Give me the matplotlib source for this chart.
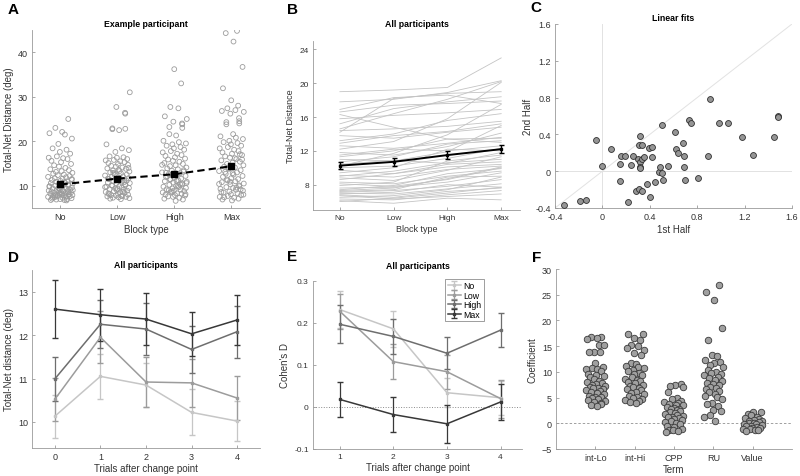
import matplotlib.pyplot as plt
import numpy as np

plt.rcParams['font.family'] = ['Liberation Sans', 'DejaVu Sans']

BLOCKS = ['No', 'Low', 'High', 'Max']

# A: example participant, one value per trial in each block
ex_no = [25.0, 23.0, 22.1, 21.8, 21.5, 20.6, 19.4, 18.4, 18.1, 17.6, 17.2, 16.6, 16.3, 16.2, 16.0,
         15.6, 15.3, 14.9, 14.6, 14.3, 14.0, 13.7, 13.5, 13.3, 13.1, 12.9, 12.7, 12.5, 12.4, 12.2,
         12.0, 11.9, 11.7, 11.6, 11.4, 11.3, 11.1, 11.0, 10.9, 10.8, 10.6, 10.5, 10.4, 10.3, 10.2,
         10.0, 9.9, 9.8, 9.7, 9.6, 9.5, 9.4, 9.3, 9.2, 9.1, 9.0, 8.9, 8.8, 8.8, 8.7, 8.6, 8.5, 8.4,
         8.4, 8.3, 8.2, 8.1, 8.0, 8.0, 7.9, 7.8, 7.8, 7.7, 7.6, 7.5, 7.5, 7.4, 7.3, 7.2, 7.1, 7.0,
         7.0, 6.9, 6.8, 6.8, 9.0, 9.4, 10.1, 8.6, 7.7, 8.2, 9.9, 10.7, 11.5, 8.9, 7.4, 6.7, 8.1]
ex_low = [31.0, 27.7, 26.4, 26.2, 22.9, 22.8, 22.7, 22.5, 19.3, 18.4, 18.0, 17.6, 16.6, 16.4, 16.3,
          16.0, 15.8, 15.7, 15.5, 15.3, 15.1, 14.9, 14.7, 14.5, 14.3, 14.1, 13.9, 13.8, 13.6, 13.4,
          13.2, 13.0, 12.8, 12.7, 12.5, 12.3, 12.1, 12.0, 11.8, 11.7, 11.5, 11.3, 11.2, 11.0, 10.9,
          10.7, 10.6, 10.5, 10.3, 10.2, 10.0, 9.9, 9.8, 9.6, 9.5, 9.4, 9.2, 9.1, 9.0, 8.9, 8.8, 8.6,
          8.5, 8.4, 8.3, 8.2, 8.0, 7.9, 7.8, 7.7, 7.6, 7.5, 7.4, 7.3, 7.2, 7.1, 7.0, 12.4, 11.1, 9.7,
          8.7, 10.1, 13.3, 14.0, 8.1, 9.3, 10.8, 12.9, 7.7, 11.6]
ex_high = [36.2, 33.0, 27.7, 27.4, 25.6, 25.0, 24.4, 24.0, 23.8, 23.2, 23.0, 21.6, 21.3, 20.1, 19.8,
           19.5, 19.3, 19.0, 18.7, 18.4, 18.1, 17.8, 17.5, 17.2, 16.9, 16.7, 16.4, 16.1, 15.9, 15.6,
           15.4, 15.1, 14.9, 14.6, 14.4, 14.1, 13.9, 13.7, 13.4, 13.2, 13.0, 12.8, 12.6, 12.4, 12.2,
           12.0, 11.8, 11.6, 11.4, 11.2, 11.0, 10.9, 10.7, 10.5, 10.3, 10.2, 10.0, 9.8, 9.7, 9.5,
           9.4, 9.2, 9.1, 8.9, 8.8, 8.6, 8.5, 8.3, 8.2, 8.0, 7.9, 7.8, 7.6, 7.5, 7.3, 7.1, 6.9, 6.6,
           11.5, 10.6, 12.1, 9.9, 8.7, 13.5, 14.7, 10.4, 9.0, 11.1, 8.1, 12.9]
ex_max = [44.8, 44.3, 42.4, 36.7, 31.9, 29.2, 28.0, 27.4, 27.0, 26.8, 26.6, 26.2, 25.2, 24.5, 24.3,
          24.0, 23.8, 21.6, 21.1, 20.8, 20.5, 20.1, 19.8, 19.6, 19.3, 19.0, 18.7, 18.4, 18.1, 17.8,
          17.5, 17.2, 16.9, 16.6, 16.3, 16.0, 15.7, 15.4, 15.2, 14.9, 14.6, 14.3, 14.1, 13.8, 13.5,
          13.3, 13.0, 12.7, 12.5, 12.2, 12.0, 11.7, 11.5, 11.2, 11.0, 10.8, 10.5, 10.3, 10.1, 9.9,
          9.7, 9.5, 9.3, 9.1, 8.9, 8.7, 8.5, 8.3, 8.1, 7.9, 7.7, 7.5, 7.3, 7.1, 6.9, 6.7, 15.9, 13.1,
          10.9, 9.6, 8.6, 17.1, 12.8, 11.4, 8.0, 7.4, 16.2, 14.0, 9.2, 10.4]
ex_means = [10.3, 11.6, 12.6, 14.4]

# horizontal scatter of the swarm points (fraction of the half width)
JITTER = [0.62, -0.41, 0.13, -0.88, 0.35, 0.91, -0.17, -0.63, 0.48, -0.05, 0.77, -0.29, -0.94,
          0.21, 0.56, -0.72, 0.04, 0.84, -0.51, -0.12, 0.39, -0.81, 0.67, 0.09, -0.36, 0.95,
          -0.58, 0.27, -0.21, 0.73, -0.99, 0.44, -0.46, 0.16, 0.88, -0.68, -0.02, 0.53, -0.33,
          0.31, -0.77, 0.98, -0.09, 0.6]

# B: every participant, mean per block (same row = same participant)
b_no = [19.0, 17.8, 16.9, 16.6, 16.3, 15.2, 14.6, 14.2, 14.4, 13.8, 13.2, 12.6, 12.2, 11.8, 11.5,
        11.0, 10.7, 10.4, 10.0, 9.7, 9.4, 9.1, 8.8, 8.6, 8.3, 8.1, 7.9, 7.6, 7.4, 7.3, 7.2, 7.1,
        7.0, 6.9, 6.8, 6.7, 6.5, 6.3, 6.1, 6.0, 15.8, 12.9, 10.2, 9.0, 11.3]
b_low = [19.2, 18.1, 18.3, 17.4, 14.8, 17.0, 16.4, 18.2, 14.6, 13.5, 14.0, 12.3, 13.1, 11.5, 12.2,
         10.8, 11.3, 10.9, 10.2, 9.3, 10.0, 8.9, 8.5, 9.3, 8.1, 7.8, 8.3, 7.7, 7.9, 7.6, 7.4, 7.3,
         6.9, 7.1, 6.5, 6.3, 6.7, 6.2, 5.8, 6.4, 16.2, 13.8, 11.7, 9.6, 12.0]
b_high = [19.5, 18.9, 18.6, 17.6, 13.4, 17.8, 18.1, 18.8, 14.9, 14.2, 15.6, 12.9, 15.8, 12.5, 12.0,
          11.9, 12.8, 10.5, 11.1, 10.4, 12.2, 9.8, 9.7, 10.1, 9.0, 8.6, 10.8, 8.3, 9.3, 8.7, 8.9,
          7.8, 7.5, 8.0, 7.2, 6.6, 7.4, 6.8, 6.4, 7.0, 16.5, 14.3, 13.9, 10.6, 13.4]
b_max = [23.0, 20.3, 17.6, 17.9, 13.0, 18.4, 20.2, 19.0, 15.5, 14.8, 16.4, 13.6, 20.1, 14.1, 12.6,
         15.0, 13.2, 11.8, 12.3, 10.7, 12.0, 10.2, 11.3, 10.4, 9.6, 10.0, 11.5, 9.4, 9.9, 10.1, 9.0,
         8.6, 8.1, 7.7, 7.6, 6.9, 8.9, 7.3, 6.2, 7.7, 16.9, 15.2, 17.5, 11.0, 13.5]
b_mean = [10.25, 10.7, 11.5, 12.2]
b_sem = [0.45, 0.45, 0.45, 0.45]

# C: linear fit slopes, first vs second half
c_first = [-0.32, -0.19, -0.14, -0.05, 0.0, 0.07, 0.15, 0.15, 0.16, 0.19, 0.22, 0.24, 0.26, 0.28,
           0.3, 0.31, 0.33, 0.32, 0.31, 0.33, 0.32, 0.32, 0.32, 0.33, 0.35, 0.38, 0.39, 0.4, 0.42,
           0.42, 0.44, 0.48, 0.49, 0.5, 0.5, 0.51, 0.55, 0.61, 0.62, 0.64, 0.68, 0.69, 0.69, 0.7,
           0.73, 0.75, 0.81, 0.89, 0.91, 0.98, 1.06, 1.18, 1.27, 1.45, 1.48, 1.48]
c_second = [-0.37, -0.32, -0.31, 0.34, 0.06, 0.24, -0.11, 0.08, 0.16, 0.17, -0.34, 0.07, 0.17, -0.22,
            0.13, -0.19, -0.22, 0.38, 0.29, 0.28, 0.1, 0.05, 0.03, 0.13, 0.15, -0.14, 0.25, -0.28,
            0.26, 0.15, -0.12, -0.01, 0.05, -0.02, 0.5, -0.1, 0.06, 0.43, 0.24, 0.2, 0.31, 0.16,
            0.05, -0.1, 0.56, 0.52, -0.07, 0.16, 0.78, 0.52, 0.52, 0.37, 0.18, 0.37, 0.6, 0.59]
c_ticks = [-0.4, 0, 0.4, 0.8, 1.2, 1.6]
c_ticklabels = ['-0.4', '0', '0.4', '0.8', '1.2', '1.6']

# D: distance after a change point, mean and s.e.m.
d_trials = [0, 1, 2, 3, 4]
d_vals = {
    'No': [10.13, 11.05, 10.85, 10.22, 10.02],
    'Low': [10.52, 11.95, 10.92, 10.9, 10.55],
    'High': [10.99, 12.25, 12.14, 11.67, 12.08],
    'Max': [12.6, 12.47, 12.37, 12.03, 12.35],
}
d_errs = {
    'No': [0.5, 0.52, 0.5, 0.53, 0.47],
    'Low': [0.5, 0.6, 0.58, 0.55, 0.5],
    'High': [0.5, 0.55, 0.6, 0.55, 0.6],
    'Max': [0.67, 0.6, 0.6, 0.5, 0.57],
}

# E: Cohen's D after a change point
e_trials = [1, 2, 3, 4]
e_vals = {
    'No': [0.232, 0.186, 0.034, 0.022],
    'Low': [0.228, 0.108, 0.084, 0.02],
    'High': [0.197, 0.168, 0.128, 0.183],
    'Max': [0.018, -0.018, -0.04, 0.012],
}
e_errs = {
    'No': [0.045, 0.043, 0.035, 0.04],
    'Low': [0.042, 0.042, 0.04, 0.045],
    'High': [0.045, 0.042, 0.038, 0.041],
    'Max': [0.042, 0.042, 0.045, 0.042],
}
e_ticklabels = ['-0.1', '0', '0.1', '0.2', '0.3']

# F: regression coefficients per participant
TERMS = ['int-Lo', 'int-Hi', 'CPP', 'RU', 'Value']
f_intlo = [16.8, 16.7, 16.5, 16.4, 15.3, 15.2, 13.8, 13.9, 13.8, 11.8, 11.0, 10.8, 10.6, 10.5, 10.1,
           9.5, 9.3, 9.2, 9.0, 8.7, 8.3, 8.0, 7.8, 7.6, 7.4, 7.2, 7.0, 6.9, 6.8, 6.6, 6.4, 6.2, 6.0,
           5.8, 5.6, 5.4, 5.2, 5.1, 5.0, 4.8, 4.5, 4.3, 4.1, 3.9, 3.7, 3.5, 3.4]
f_inthi = [17.3, 17.3, 16.6, 16.2, 15.3, 15.1, 14.6, 14.3, 13.7, 13.2, 11.8, 11.5, 11.2, 10.9, 10.7,
           10.4, 10.1, 9.8, 9.6, 9.3, 9.0, 8.7, 8.5, 8.3, 8.0, 7.8, 7.5, 7.3, 7.0, 6.8, 6.6, 6.4, 6.1,
           5.9, 5.6, 5.3, 5.1, 4.9, 4.7, 4.5, 4.3, 4.1, 3.9]
f_cpp = [7.7, 7.5, 7.3, 7.1, 6.1, 5.0, 4.7, 4.3, 4.1, 4.0, 3.8, 3.6, 3.5, 3.2, 3.0, 2.8, 2.7, 2.5,
         2.3, 2.2, 2.0, 1.9, 1.7, 1.5, 1.3, 1.2, 1.0, 0.8, 0.6, 0.4, 0.2, 0.0, -0.2, -0.5, -0.8,
         -1.2, -1.3, -1.4, -1.5, -1.6]
f_ru = [26.9, 25.6, 23.9, 18.6, 16.2, 13.2, 13.0, 12.3, 12.0, 11.8, 11.3, 10.9, 10.4, 10.0, 9.8,
        9.5, 9.3, 9.0, 8.8, 8.5, 8.2, 7.9, 7.6, 7.4, 7.1, 6.9, 6.6, 6.3, 6.0, 5.7, 5.3, 5.2, 4.8,
        4.0, 3.7, 3.3, 2.6, 2.3, 1.6, 1.2, 0.5]
f_value = [2.2, 2.1, 1.8, 1.6, 1.3, 1.1, 0.9, 0.7, 0.5, 0.4, 0.2, 0.1, 0.0, -0.1, -0.2, -0.3, -0.5,
           -0.6, -0.8, -0.9, -1.0, -1.1, -1.2, -1.3, -1.4, -1.5]

SHADES = {'No': '#c6c6c6', 'Low': '#9c9c9c', 'High': '#6e6e6e', 'Max': '#383838'}
AX_COL = '#9a9a9a'
TXT_COL = '#333333'


def px(x0, y0, x1, y1):
    # axes rectangle from pixel corners (left, top, right, bottom) of the 800x477 canvas
    return [x0 / 800, 1 - y1 / 477, (x1 - x0) / 800, (y1 - y0) / 477]


def style(ax, size=6.5):
    for s in ['top', 'right']:
        ax.spines[s].set_visible(False)
    for s in ['left', 'bottom']:
        ax.spines[s].set_color(AX_COL)
        ax.spines[s].set_linewidth(0.6)
    ax.tick_params(direction='in', length=2.5, width=0.6, color=AX_COL,
                   labelcolor=TXT_COL, labelsize=size, pad=3)


def offsets(n, shift, half):
    return np.roll(np.resize(np.array(JITTER), n), shift) * half


fig = plt.figure(figsize=(8, 4.77), dpi=100)

# ---- A
ax = fig.add_axes(px(32, 31, 260, 209))
style(ax)
for i, vals in enumerate([ex_no, ex_low, ex_high, ex_max]):
    xs = i + 1 + offsets(len(vals), 5 * i, 0.22)
    ax.scatter(xs, vals, s=12, facecolors='none', edgecolors='#9c9c9c', linewidths=0.6, zorder=2)
ax.plot(range(1, 5), ex_means, color='black', lw=1.5, ls=(0, (3.5, 2)), marker='s',
        markersize=4, zorder=3)
ax.set_xlim(0.5, 4.5)
ax.set_ylim(5, 45)
ax.set_xticks(range(1, 5))
ax.set_xticklabels(BLOCKS)
ax.set_yticks([10, 20, 30, 40])
ax.set_title('Example participant', fontsize=6.3, fontweight='bold', pad=3)
ax.set_xlabel('Block type', fontsize=7, color=TXT_COL, labelpad=2)
ax.set_ylabel('Total-Net Distance (deg)', fontsize=7, color=TXT_COL, labelpad=3)

# ---- B
ax = fig.add_axes(px(313, 42, 520, 211))
style(ax, 6)
cols = np.array([b_no, b_low, b_high, b_max])
for j in range(cols.shape[1]):
    ax.plot(range(1, 5), cols[:, j], color='#c4c4c4', lw=0.6, zorder=1)
ax.errorbar(range(1, 5), b_mean, yerr=b_sem, color='black', lw=1.4, capsize=1.8,
            elinewidth=1.0, marker='s', markersize=2, zorder=3)
ax.set_xlim(0.5, 4.35)
ax.set_ylim(5, 25)
ax.set_xticks(range(1, 5))
ax.set_xticklabels(BLOCKS)
ax.set_yticks([8, 12, 16, 20, 24])
ax.set_title('All participants', fontsize=6.3, fontweight='bold', pad=10.5)
ax.set_xlabel('Block type', fontsize=6.5, color=TXT_COL, labelpad=2)
ax.set_ylabel('Total-Net Distance', fontsize=6.5, color=TXT_COL, labelpad=3)

# ---- C
ax = fig.add_axes(px(555, 25, 792, 209))
style(ax)
ax.axhline(0, color='#e2e2e2', lw=0.7, zorder=1)
ax.axvline(0, color='#e2e2e2', lw=0.7, zorder=1)
ax.plot([-0.4, 1.6], [-0.4, 1.6], color='#e2e2e2', lw=0.7, zorder=1)
ax.scatter(c_first, c_second, s=18, facecolor='#959595', edgecolor='#303030', linewidths=0.6,
           zorder=3)
ax.set_xlim(-0.4, 1.6)
ax.set_ylim(-0.4, 1.6)
ax.set_xticks(c_ticks)
ax.set_xticklabels(c_ticklabels)
ax.set_yticks(c_ticks)
ax.set_yticklabels(c_ticklabels)
ax.set_title('Linear fits', fontsize=6.3, fontweight='bold', pad=3)
ax.set_xlabel('1st Half', fontsize=7, color=TXT_COL, labelpad=2)
ax.set_ylabel('2nd Half', fontsize=7, color=TXT_COL, labelpad=2)

# ---- D
ax = fig.add_axes(px(32, 271, 260, 449))
style(ax)
for name in BLOCKS:
    ax.errorbar(d_trials, d_vals[name], yerr=d_errs[name], color=SHADES[name], lw=1.1,
                elinewidth=0.9, capsize=2, marker='s', markersize=2)
ax.set_xlim(-0.5, 4.5)
ax.set_ylim(9.4, 13.5)
ax.set_xticks(d_trials)
ax.set_yticks([10, 11, 12, 13])
ax.set_title('All participants', fontsize=6.3, fontweight='bold', pad=2.5)
ax.set_xlabel('Trials after change point', fontsize=7, color=TXT_COL, labelpad=1)
ax.set_ylabel('Total-Net distance (deg)', fontsize=7, color=TXT_COL, labelpad=3)

# ---- E
ax = fig.add_axes(px(313, 282, 522, 450))
style(ax, 6)
ax.axhline(0, color='#8a8a8a', lw=0.7, ls=':', zorder=1)
for name in BLOCKS:
    ax.errorbar(e_trials, e_vals[name], yerr=e_errs[name], color=SHADES[name], lw=1.1,
                elinewidth=0.9, capsize=2, marker='s', markersize=2, label=name)
ax.set_xlim(0.5, 4.4)
ax.set_ylim(-0.1, 0.3)
ax.set_xticks(e_trials)
ax.set_yticks([-0.1, 0, 0.1, 0.2, 0.3])
ax.set_yticklabels(e_ticklabels)
ax.set_title('All participants', fontsize=6.3, fontweight='bold', pad=9.5)
ax.set_xlabel('Trials after change point', fontsize=7, color=TXT_COL, labelpad=1)
ax.set_ylabel("Cohen's D", fontsize=7, color=TXT_COL, labelpad=3)
leg = ax.legend(loc='upper right', bbox_to_anchor=(0.84, 1.04), fontsize=6.3, handlelength=1.5,
                handletextpad=0.3, labelspacing=0.05, borderpad=0.3, fancybox=False,
                framealpha=1)
leg.get_frame().set_edgecolor('#777777')
leg.get_frame().set_linewidth(0.5)

# ---- F
ax = fig.add_axes(px(556, 270, 792, 450))
style(ax)
ax.axhline(0, color='#a0a0a0', lw=0.7, ls=(0, (2.5, 2)), zorder=1)
for i, vals in enumerate([f_intlo, f_inthi, f_cpp, f_ru, f_value]):
    xs = i + 1 + offsets(len(vals), 9 * i, 0.25)
    ax.scatter(xs, vals, s=22, facecolor='#a0a0a0', edgecolor='#3a3a3a', linewidths=0.6, zorder=3)
ax.set_xlim(0, 6)
ax.set_ylim(-5, 30)
ax.set_xticks(range(1, 6))
ax.set_xticklabels(TERMS)
ax.set_yticks(range(-5, 31, 5))
ax.set_xlabel('Term', fontsize=7, color=TXT_COL, labelpad=1)
ax.set_ylabel('Coefficient', fontsize=7, color=TXT_COL, labelpad=3)

# panel letters
for letter, (x, y) in zip('ABCDEF', [(8, 10), (287, 10), (530, 8), (8, 258), (287, 257),
                                     (532, 258)]):
    fig.text(x / 800, 1 - y / 477, letter, fontsize=11, fontweight='bold', va='center')

fig.savefig('out.png', dpi=100)
